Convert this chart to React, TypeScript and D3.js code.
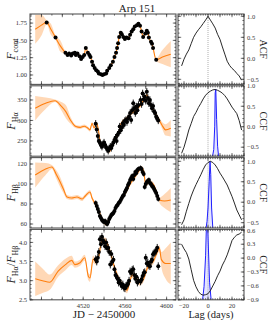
import * as d3 from 'd3'

const FONT = '"Liberation Serif", "DejaVu Serif", serif'
const ORANGE = '#ff7f0e'
const BLUE = '#1f1fff'

// ── Light curves: continuum ───────────────────────────────────────────────
const contJD = [4485, 4493.5, 4503, 4505, 4506.5, 4508.5, 4510, 4512, 4513, 4514.5, 4516.5, 4518,
  4519.5, 4521, 4522.5, 4524.5, 4526, 4527, 4528.5, 4529.5, 4531, 4532.5, 4534, 4535, 4537, 4538.5,
  4540, 4542, 4543, 4545, 4546.5, 4548.5, 4550, 4551.5, 4552.5, 4553.5, 4554.5, 4556, 4557, 4558.5,
  4560, 4561.5, 4563.5, 4565, 4566.5, 4568, 4569.5, 4571.5, 4573, 4574.5, 4576, 4577.5, 4579.5, 4581,
  4582, 4583, 4585, 4586, 4587, 4590]
const contFlux = [1.76, 1.54, 1.32, 1.29, 1.31, 1.28, 1.31, 1.32, 1.29, 1.31, 1.27, 1.23,
  1.26, 1.29, 1.39, 1.32, 1.29, 1.26, 1.19, 1.14, 1.10, 1.07, 1.05, 1.02, 1.01, 1.00,
  1.01, 1.02, 1.06, 1.10, 1.14, 1.19, 1.26, 1.32, 1.39, 1.46, 1.55, 1.61, 1.59, 1.55,
  1.52, 1.54, 1.53, 1.58, 1.63, 1.66, 1.70, 1.72, 1.74, 1.71, 1.63, 1.55, 1.60, 1.64,
  1.61, 1.54, 1.48, 1.45, 1.39, 1.22]
const contErr = 0.015

const contPreJD = [4474, 4480, 4485, 4489, 4493.5, 4498]
const contPreVal = [1.66, 1.72, 1.76, 1.66, 1.54, 1.42]
const contPreSig = [0.21, 0.15, 0.03, 0.08, 0.03, 0.08]
const contPostJD = [4596, 4604]
const contPostVal = [1.26, 1.30]
const contPostSig = [0.1, 0.19]
const contFitSig = 0.02

// ── Light curves: emission lines (same epochs) ──────────────────────────────
const lineJD = [4532, 4533, 4534, 4535, 4536, 4537, 4538, 4539, 4540, 4541, 4542, 4543, 4544, 4545,
  4546, 4547, 4548, 4549, 4550, 4551, 4552, 4553, 4554, 4555, 4556, 4557, 4558, 4559, 4560, 4561,
  4562, 4563, 4564, 4565, 4566, 4567, 4568, 4569, 4570, 4571, 4572, 4573, 4575, 4576, 4577, 4578,
  4579, 4580, 4581, 4582, 4583, 4584, 4585, 4586, 4587, 4588, 4589, 4590, 4591, 4592]
const haFlux = [292, 278, 262, 250, 246, 240, 236, 242, 246, 240, 234, 230, 226, 232,
  236, 233, 240, 246, 252, 258, 250, 265, 270, 285, 276, 283, 293, 289, 299, 301,
  296, 305, 309, 318, 301, 325, 342, 330, 318, 334, 325, 338, 350, 340, 366, 352,
  358, 348, 370, 355, 342, 350, 338, 330, 335, 322, 318, 309, 305, 300]
const hbFlux = [81, 78, 75, 72, 68, 66, 64, 63, 62, 63, 61, 60, 62, 65,
  67, 69, 70, 71, 73, 76, 78, 79, 81, 82, 84, 86, 88, 89, 92, 94,
  96, 99, 101, 104, 106, 108, 105, 109, 112, 111, 114, 115, 116, 115, 112, 110,
  97, 100, 102, 103, 104, 101, 100, 98, 97, 95, 93, 91, 88, 85]
const ratio = [3.56, 3.50, 3.60, 3.75, 4.08, 3.95, 4.15, 4.05, 4.00, 3.90, 4.00, 3.85, 3.86, 3.75,
  3.42, 3.70, 3.50, 3.55, 3.30, 3.15, 3.11, 3.05, 2.95, 3.00, 2.92, 2.86, 2.90, 2.82, 2.80, 2.86,
  2.88, 2.92, 3.00, 3.24, 3.20, 3.28, 3.30, 3.15, 3.05, 3.10, 2.95, 3.00, 2.98, 3.03, 3.12, 3.20,
  3.22, 3.60, 3.45, 3.47, 3.40, 3.38, 3.50, 3.55, 3.69, 3.72, 3.75, 3.78, 3.86, 3.38]
const haErr = 9
const hbErr = 2.5
const ratioErr = 0.1

// ── Model light curves (line + 1σ band) ───────────────────────────────────
const haModelJD = [4474, 4484, 4493, 4499, 4503.5, 4508, 4513, 4517, 4521, 4524, 4526.5, 4528.5,
  4530.5, 4533, 4534.5, 4537, 4539, 4542, 4545, 4548, 4550, 4553, 4556.5, 4561.5, 4566.5, 4569,
  4571.5, 4574.5, 4578, 4581, 4584, 4589, 4592, 4595.5, 4599, 4604]
const haModelVal = [330, 342, 348, 335, 321, 300, 285, 283, 286, 282, 277, 293,
  282, 293, 278, 240, 243, 238, 224, 240, 257, 262, 293, 305, 318, 322,
  330, 335, 350, 362, 342, 318, 305, 289, 277, 281]
const haModelSig = [30, 14, 3, 10, 16, 8, 4, 4, 4, 4, 4, 4,
  4, 4, 4, 4, 4, 4, 4, 4, 4, 4, 4, 4, 4, 4,
  4, 4, 4, 4, 4, 4, 5, 8, 14, 20]

const hbModelJD = [4474, 4484, 4490, 4494, 4497, 4501, 4504.5, 4509, 4514, 4519, 4522, 4526.5,
  4528.5, 4531, 4535, 4539, 4542, 4545, 4549, 4553, 4557, 4561, 4565, 4569, 4572, 4576, 4578,
  4580, 4583, 4587, 4590, 4593, 4598, 4604]
const hbModelVal = [109, 115, 117, 110, 104, 95, 87, 86, 87, 85, 88, 92,
  86, 81, 73, 63, 60, 66, 71, 79, 85, 92, 100, 106, 111, 116, 113,
  99, 102, 100, 93, 84, 83, 84]
const hbModelSig = [12.5, 6, 2, 4, 5, 4, 2, 2, 2, 2, 2, 2,
  2, 2, 2, 2, 2, 2, 2, 2, 2, 2, 2, 2, 2, 2, 2,
  2, 2, 2, 2, 2.5, 7, 12]

const raModelJD = [4474, 4481, 4488, 4496, 4503, 4509, 4512, 4517, 4521.5, 4525, 4526.5, 4529.5,
  4532, 4535, 4538, 4541, 4544, 4547, 4550, 4554, 4558, 4562, 4564, 4567, 4570, 4574, 4578,
  4581, 4584, 4587, 4591, 4593, 4595, 4599, 4604]
const raModelVal = [3.05, 3.0, 2.96, 3.25, 3.42, 3.53, 3.42, 3.47, 3.60, 3.11, 3.07, 3.56,
  3.5, 3.65, 4.05, 4.05, 3.9, 3.65, 3.35, 3.05, 2.88, 2.75, 2.9, 3.15, 3.1, 2.95, 3.05,
  3.3, 3.45, 3.5, 3.75, 3.85, 3.55, 3.45, 3.45]
const raModelSig = [0.45, 0.32, 0.2, 0.15, 0.15, 0.12, 0.08, 0.08, 0.08, 0.1, 0.1, 0.1,
  0.08, 0.08, 0.08, 0.08, 0.08, 0.08, 0.08, 0.08, 0.08, 0.08, 0.08, 0.08, 0.08, 0.08, 0.08,
  0.08, 0.08, 0.08, 0.08, 0.08, 0.2, 0.4, 0.55]

// ── Correlation functions ────────────────────────────────────────────────
const lags = [-22, -20, -18, -16, -14, -12, -10, -8, -6, -4, -2, 0, 2, 4, 6, 8, 10, 12, 14, 16,
  18, 20, 22, 24, 26, 28]
const acf = [-0.18, -0.02, 0.1, 0.2, 0.35, 0.5, 0.6, 0.68, 0.75, 0.83, 0.91, 1.0, 0.91, 0.82,
  0.72, 0.57, 0.45, 0.27, 0.1, -0.07, -0.17, -0.24, -0.29, -0.36, -0.42, -0.52]
const ccfHa = [-0.65, -0.5, -0.3, -0.08, 0.08, 0.25, 0.35, 0.47, 0.57, 0.68, 0.77, 0.83, 0.87,
  0.9, 0.91, 0.89, 0.86, 0.82, 0.76, 0.68, 0.58, 0.48, 0.4, 0.32, 0.15, -0.08]
const ccfHb = [-0.55, -0.43, -0.22, -0.03, 0.15, 0.3, 0.43, 0.55, 0.67, 0.8, 0.91, 0.97, 1.0,
  0.97, 0.91, 0.82, 0.71, 0.62, 0.52, 0.42, 0.28, 0.14, -0.02, -0.19, -0.31, -0.43]
const ccfRatio = [0.3, 0.2, 0.12, -0.02, -0.25, -0.48, -0.62, -0.72, -0.78, -0.8, -0.79, -0.77,
  -0.7, -0.6, -0.5, -0.38, -0.28, -0.15, -0.05, 0.07, 0.22, 0.38, 0.45, 0.5, 0.52, 0.56]

// centroid distributions (relative heights)
const cenHaLag = [3.8, 4.8, 5.6, 6.0, 6.5, 7.2, 8.0, 8.8]
const cenHaH = [0, 0.1, 0.45, 0.95, 1.0, 0.55, 0.15, 0]
const cenHbLag = [-1.6, -0.8, 0, 1, 1.7, 2.3, 3, 4]
const cenHbH = [0, 0.1, 0.3, 0.7, 1.0, 0.8, 0.3, 0]
const cenRaLag = [-4.5, -3.3, -2, -1.2, -0.6, 0.3, 1.3, 2.6]
const cenRaH = [0, 0.15, 0.5, 0.9, 1.0, 0.6, 0.2, 0]

// ── Layout ───────────────────────────────────────────────────────────────
const W = 274
const H = 325
const LX0 = 30, LX1 = 176, RX0 = 178, RX1 = 244
const TOP = 14, STEP = 71.8, PH = 70.4

const xJD = d3.scaleLinear().domain([4469, 4609]).range([LX0, LX1])
const xLag = d3.scaleLinear().domain([-25, 30]).range([RX0, RX1])

const minus = (s: string) => s.replace('-', '\u2212')

function tickValues(lo: number, hi: number, step: number) {
  const out: number[] = []
  const start = Math.ceil(lo / step - 1e-9)
  for (let k = start; k * step <= hi + 1e-9; k++) out.push(+(k * step).toFixed(6))
  return out
}

function Frame({ x, y, xMaj, xMin, yMaj, yMin }: any) {
  const [x0, x1] = x.range()
  const [y1, y0] = y.range()
  const [dx0, dx1] = x.domain()
  const [dy0, dy1] = y.domain()
  const segs: number[][] = []
  const add = (vals: number[], len: number, axis: 'x' | 'y', sc: any) => {
    vals.forEach((v) => {
      const p = sc(v)
      if (axis === 'x') {
        segs.push([p, y1, p, y1 - len], [p, y0, p, y0 + len])
      } else {
        segs.push([x0, p, x0 + len, p], [x1, p, x1 - len, p])
      }
    })
  }
  add(tickValues(dx0, dx1, xMin), 1.6, 'x', x)
  add(tickValues(dx0, dx1, xMaj), 3.2, 'x', x)
  add(tickValues(dy0, dy1, yMin), 1.6, 'y', y)
  add(tickValues(dy0, dy1, yMaj), 3.2, 'y', y)
  return (
    <g>
      <rect x={x0} y={y0} width={x1 - x0} height={y1 - y0} fill="none" stroke="#555" strokeWidth={1.1} />
      {segs.map((s, i) => (
        <line key={i} x1={s[0]} y1={s[1]} x2={s[2]} y2={s[3]} stroke="#333" strokeWidth={0.7} />
      ))}
    </g>
  )
}

function LeftPanel({ idx, def, showX }: any) {
  const y0 = TOP + idx * STEP
  const y = d3.scaleLinear().domain(def.domain).range([y0 + PH, y0])
  const m = def.model
  const idxs = d3.range(m.x.length)
  const area = d3.area<number>()
    .x((i) => xJD(m.x[i]))
    .y0((i) => y(m.y[i] - m.s[i]))
    .y1((i) => y(m.y[i] + m.s[i]))
    .curve(d3.curveMonotoneX)
  const line = d3.line<number>()
    .x((i) => xJD(m.x[i]))
    .y((i) => y(m.y[i]))
    .curve(d3.curveMonotoneX)
  const clip = `clipL${idx}`
  return (
    <g>
      <defs>
        <clipPath id={clip}>
          <rect x={LX0} y={y0} width={LX1 - LX0} height={PH} />
        </clipPath>
      </defs>
      <g clipPath={`url(#${clip})`}>
        <path d={area(idxs) || ''} fill={ORANGE} fillOpacity={0.3} />
        <path d={line(idxs) || ''} fill="none" stroke={ORANGE} strokeWidth={1.1} />
        {def.pts.x.map((t: number, i: number) => (
          <g key={i}>
            <line x1={xJD(t)} x2={xJD(t)} y1={y(def.pts.y[i] - def.pts.err)} y2={y(def.pts.y[i] + def.pts.err)}
              stroke="#000" strokeWidth={0.9} />
            <circle cx={xJD(t)} cy={y(def.pts.y[i])} r={2} fill="#000" />
          </g>
        ))}
      </g>
      <Frame x={xJD} y={y} xMaj={20} xMin={10} yMaj={def.major} yMin={def.minor} />
      {def.ticks.map((v: number) => (
        <text key={v} x={LX0 - 3} y={y(v)} dy="0.35em" textAnchor="end" fontSize={6.5} fontFamily={FONT} fill="#333">
          {minus(def.fmt(v))}
        </text>
      ))}
      {showX && [4520, 4560, 4600].map((v) => (
        <text key={v} x={xJD(v)} y={y0 + PH + 8} textAnchor="middle" fontSize={6.5} fontFamily={FONT} fill="#333">
          {v}
        </text>
      ))}
      <g transform={`translate(15,${y0 + PH / 2}) rotate(-90)`}>
        <text textAnchor="middle" fontSize={12} fontFamily={FONT} fill="#222">
          {def.label}
        </text>
      </g>
    </g>
  )
}

function RightPanel({ idx, def, showX }: any) {
  const y0 = TOP + idx * STEP
  const y = d3.scaleLinear().domain(def.domain).range([y0 + PH, y0])
  const ids = d3.range(lags.length)
  const line = d3.line<number>()
    .x((i) => xLag(lags[i]))
    .y((i) => y(def.vals[i]))
  const clip = `clipR${idx}`
  let blue = null
  if (def.cen) {
    const base = def.domain[0]
    const peak = def.cenPeak
    const ci = d3.range(def.cen.lag.length)
    const a = d3.area<number>()
      .x((i) => xLag(def.cen.lag[i]))
      .y0(y(base))
      .y1((i) => y(base + def.cen.h[i] * (peak - base)))
    const l = d3.line<number>()
      .x((i) => xLag(def.cen.lag[i]))
      .y((i) => y(base + def.cen.h[i] * (peak - base)))
    blue = (
      <g>
        <path d={a(ci) || ''} fill={BLUE} fillOpacity={0.12} />
        <path d={l(ci) || ''} fill="none" stroke={BLUE} strokeWidth={1} />
      </g>
    )
  }
  return (
    <g>
      <defs>
        <clipPath id={clip}>
          <rect x={RX0} y={y0} width={RX1 - RX0} height={PH} />
        </clipPath>
      </defs>
      <g clipPath={`url(#${clip})`}>
        <line x1={xLag(0)} x2={xLag(0)} y1={y0} y2={y0 + PH} stroke="#999" strokeWidth={0.8} strokeDasharray="1,1" />
        {blue}
        <path d={line(ids) || ''} fill="none" stroke="#111" strokeWidth={0.9} />
      </g>
      <Frame x={xLag} y={y} xMaj={10} xMin={2} yMaj={def.major} yMin={0.1} />
      {def.ticks.map((v: number) => (
        <text key={v} x={RX1 + 3} y={y(v)} dy="0.35em" textAnchor="start" fontSize={6.5} fontFamily={FONT} fill="#333">
          {minus(d3.format('.1f')(v))}
        </text>
      ))}
      {showX && [-20, 0, 20].map((v) => (
        <text key={v} x={xLag(v)} y={y0 + PH + 8} textAnchor="middle" fontSize={6.5} fontFamily={FONT} fill="#333">
          {minus(String(v))}
        </text>
      ))}
      <g transform={`translate(260,${y0 + PH / 2}) rotate(90)`}>
        <text textAnchor="middle" fontSize={10} fontFamily={FONT} fill="#222">{def.label}</text>
      </g>
    </g>
  )
}

const HA = 'H\u03b1'
const HB = 'H\u03b2'
const sub = (s: string) => <tspan dy={2.5} fontSize={8}>{s}</tspan>
const F = <tspan fontStyle="italic">F</tspan>

export default function App() {
  const contModel = {
    x: [...contPreJD, ...contJD.slice(2), ...contPostJD],
    y: [...contPreVal, ...contFlux.slice(2), ...contPostVal],
    s: [...contPreSig, ...contJD.slice(2).map(() => contFitSig), ...contPostSig],
  }
  const leftDefs = [
    {
      domain: [0.864, 1.881], major: 0.25, minor: 0.05, ticks: [1.0, 1.25, 1.5, 1.75], fmt: d3.format('.2f'),
      pts: { x: contJD, y: contFlux, err: contErr }, model: contModel,
      label: <>{F}{sub('cont')}</>,
    },
    {
      domain: [212.7, 384.6], major: 50, minor: 10, ticks: [250, 300, 350], fmt: d3.format('d'),
      pts: { x: lineJD, y: haFlux, err: haErr }, model: { x: haModelJD, y: haModelVal, s: haModelSig },
      label: <>{F}{sub(HA)}</>,
    },
    {
      domain: [56, 126.4], major: 20, minor: 5, ticks: [60, 80, 100, 120], fmt: d3.format('d'),
      pts: { x: lineJD, y: hbFlux, err: hbErr }, model: { x: hbModelJD, y: hbModelVal, s: hbModelSig },
      label: <>{F}{sub(HB)}</>,
    },
    {
      domain: [2.5, 4.34], major: 0.5, minor: 0.1, ticks: [2.5, 3.0, 3.5, 4.0], fmt: d3.format('.1f'),
      pts: { x: lineJD, y: ratio, err: ratioErr }, model: { x: raModelJD, y: raModelVal, s: raModelSig },
      label: <>{F}<tspan dy={2.5} fontSize={8}>{HA}</tspan><tspan dy={-2.5}>/</tspan>{F}{sub(HB)}</>,
    },
  ]
  const rightDefs = [
    { domain: [-0.621, 1.055], major: 0.5, ticks: [-0.5, 0, 0.5, 1.0], vals: acf, label: 'ACF' },
    { domain: [-0.72, 1.0], major: 0.5, ticks: [-0.5, 0, 0.5, 1.0], vals: ccfHa, label: 'CCF',
      cen: { lag: cenHaLag, h: cenHaH }, cenPeak: d3.max(ccfHa) },
    { domain: [-0.63, 1.09], major: 0.5, ticks: [-0.5, 0, 0.5, 1.0], vals: ccfHb, label: 'CCF',
      cen: { lag: cenHbLag, h: cenHbH }, cenPeak: d3.max(ccfHb) },
    { domain: [-0.9, 0.62], major: 0.3, ticks: [-0.9, -0.6, -0.3, 0, 0.3, 0.6], vals: ccfRatio, label: 'CCF',
      cen: { lag: cenRaLag, h: cenRaH }, cenPeak: 1.0 },
  ]
  return (
    <svg width={W} height={H} style={{ position: 'absolute', left: 0, top: 0, background: '#fff' }}>
      <text x={137} y={11.5} textAnchor="middle" fontSize={11} fontFamily={FONT} fill="#222">Arp 151</text>
      {leftDefs.map((d, i) => <LeftPanel key={i} idx={i} def={d} showX={i === 3} />)}
      {rightDefs.map((d, i) => <RightPanel key={i} idx={i} def={d} showX={i === 3} />)}
      <text x={104} y={318} textAnchor="middle" fontSize={11} fontFamily={FONT} fill="#222">JD − 2450000</text>
      <text x={211} y={318} textAnchor="middle" fontSize={10.5} fontFamily={FONT} fill="#222">Lag (days)</text>
    </svg>
  )
}
